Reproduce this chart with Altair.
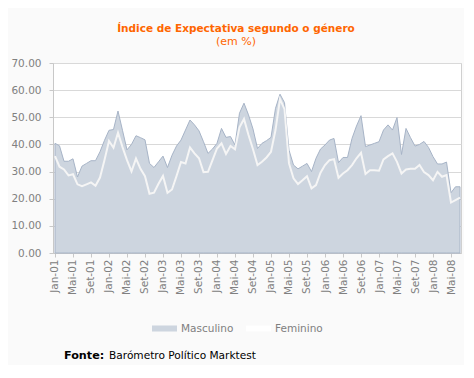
import altair as alt
import pandas as pd
import json

# Monthly data, Jan-01 .. Jul-08 (91 months)
masculino = [40.4, 39.5, 33.8, 33.8, 34.7, 28.0, 32.0, 33.0, 34.0, 34.0,
             37.3, 41.5, 45.2, 45.5, 52.3, 45.2, 38.0, 40.0, 43.2, 42.5,
             41.7, 33.0, 31.5, 33.6, 35.7, 31.5, 36.0, 39.4, 41.6, 45.3,
             49.0, 47.2, 45.0, 41.0, 36.7, 38.3, 40.4, 45.9, 42.6, 42.9,
             39.8, 51.5, 55.2, 50.9, 45.7, 38.5, 40.4, 41.4, 42.6, 53.3,
             58.5, 55.4, 37.9, 32.4, 31.0, 32.0, 33.0, 30.0, 34.9, 38.3,
             39.8, 41.6, 42.2, 33.3, 35.2, 35.2, 42.2, 46.8, 50.6, 39.2,
             39.8, 40.4, 41.0, 45.3, 47.2, 45.3, 49.9, 36.3, 45.9, 42.5,
             39.4, 40.0, 41.1, 38.9, 35.5, 32.8, 32.8, 33.5, 22.2, 24.4,
             24.4]
feminino = [35.7, 31.8, 30.8, 28.6, 29.0, 25.3, 24.6, 25.3, 26.0, 24.8,
            27.8, 34.3, 41.3, 38.8, 44.3, 39.0, 34.2, 30.1, 34.8, 31.0,
            28.3, 21.8, 22.2, 25.5, 28.4, 22.2, 23.4, 28.3, 33.5, 33.0,
            38.9, 36.7, 34.9, 29.8, 29.9, 34.2, 38.5, 40.4, 36.5, 39.4,
            38.2, 46.3, 49.4, 43.5, 38.2, 32.4, 33.6, 35.2, 37.3, 45.3,
            56.7, 53.0, 33.0, 27.5, 25.4, 26.8, 28.3, 23.8, 25.0, 29.6,
            32.4, 34.2, 34.6, 27.7, 29.3, 30.5, 32.4, 34.9, 36.9, 29.1,
            30.5, 30.5, 30.3, 34.5, 35.7, 36.7, 33.6, 29.3, 30.8, 31.0,
            31.0, 32.4, 29.8, 28.7, 26.8, 29.9, 28.1, 28.7, 18.6, 19.5,
            20.4]
tick_labels = ["Jan-01", "Mai-01", "Set-01", "Jan-02", "Mai-02", "Set-02",
               "Jan-03", "Mai-03", "Set-03", "Jan-04", "Mai-04", "Set-04",
               "Jan-05", "Mai-05", "Set-05", "Jan-06", "Mai-06", "Set-06",
               "Jan-07", "Mai-07", "Set-07", "Jan-08", "Mai-08"]
series = ["Masculino", "Feminino"]
y_ticks = [0, 10, 20, 30, 40, 50, 60, 70]

FONT = "DejaVu Sans"

rows = []
for i, v in enumerate(masculino):
    rows.append({"i": i, "serie": "Masculino", "v": v})
for i, v in enumerate(feminino):
    rows.append({"i": i, "serie": "Feminino", "v": v})
df = pd.DataFrame(rows)

tick_vals = [4 * k for k in range(len(tick_labels))]
label_expr = json.dumps(tick_labels) + "[round(datum.value / 4)]"

x = alt.X("i:Q",
          scale=alt.Scale(domain=[-0.444, 90.222], nice=False, zero=False),
          axis=alt.Axis(values=tick_vals, labelExpr=label_expr, labelAngle=-90,
                        title=None, grid=False, tickSize=4, labelPadding=2,
                        domainColor="#C8C8C8", tickColor="#C8C8C8",
                        labelColor="#808080", labelFont=FONT, labelFontSize=10.5))
y = alt.Y("v:Q",
          scale=alt.Scale(domain=[0, 70], nice=False),
          axis=alt.Axis(values=y_ticks, format=".2f", title=None, grid=True,
                        gridColor="#D9D9D9", tickSize=4, labelPadding=8,
                        domainColor="#C8C8C8", tickColor="#C8C8C8",
                        labelColor="#808080", labelFont=FONT, labelFontSize=10.5))

area = alt.Chart(df).transform_filter(alt.datum.serie == "Masculino").mark_area(
    stroke="#A7B4C7", strokeWidth=1, opacity=1
).encode(
    x=x, y=y,
    fill=alt.Fill("serie:N",
                  scale=alt.Scale(domain=series, range=["#CDD5DF", "#FFFFFF"]),
                  legend=alt.Legend(
                      orient="none", legendX=99, legendY=253,
                      direction="horizontal", title=None, padding=0,
                      symbolType="M-1,-0.24L1,-0.24L1,0.24L-1,0.24Z",
                      symbolSize=625, symbolStrokeWidth=0, symbolOpacity=1,
                      labelFont=FONT, labelFontSize=10.5, labelColor="#808080",
                      labelOffset=4, columnPadding=12,
                  ))
)

line = alt.Chart(df).transform_filter(alt.datum.serie == "Feminino").mark_line(
    color="#F5F5F5", strokeWidth=2
).encode(x=x, y=y)

fonte1 = alt.Chart(pd.DataFrame({"t": ["Fonte:"]})).mark_text(
    align="left", baseline="alphabetic", font=FONT, fontSize=11.2,
    fontWeight="bold", color="#000000"
).encode(text="t:N", x=alt.value(11), y=alt.value(296))

fonte2 = alt.Chart(pd.DataFrame({"t": ["Barómetro Político Marktest"]})).mark_text(
    align="left", baseline="alphabetic", font=FONT, fontSize=10.6,
    color="#000000"
).encode(text="t:N", x=alt.value(56), y=alt.value(296))

chart = alt.layer(area, line, fonte1, fonte2).properties(
    width=408, height=190,
    autosize=alt.AutoSizeParams(type="none"),
    padding={"left": 45, "top": 55, "right": 3, "bottom": 112},
    background="#FAFAFA",
    title=alt.TitleParams(
        text="Índice de Expectativa segundo o género",
        subtitle="(em %)",
        color="#FF6600", subtitleColor="#FF6600",
        font=FONT, subtitleFont=FONT,
        fontSize=10.5, subtitleFontSize=11,
        fontWeight="bold", subtitleFontWeight="normal",
        anchor="middle", dx=-21, offset=11, subtitlePadding=2,
    ),
).configure_view(stroke="#D0D0D0", fill="#FFFFFF")

chart.save("out.html", embed_options={"renderer": "svg", "actions": False})
